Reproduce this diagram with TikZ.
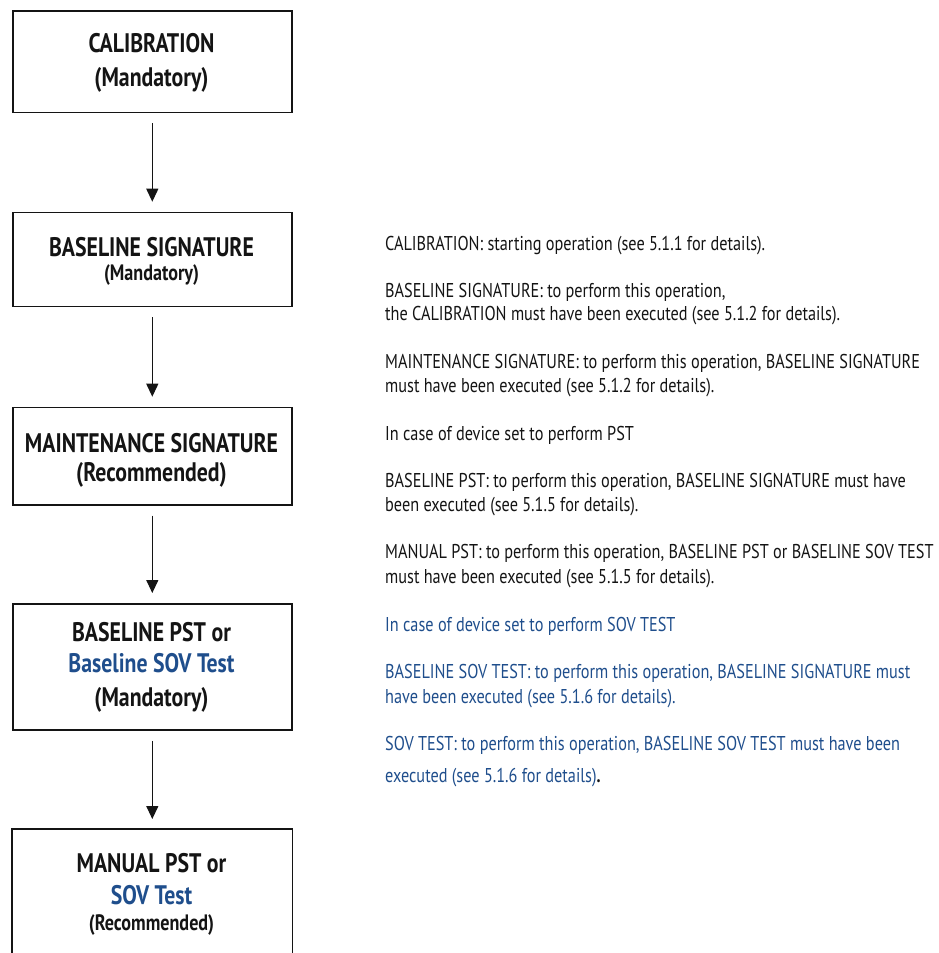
\documentclass[tikz,border=0pt]{standalone}
\usepackage{fontspec}
\setmainfont{PT Sans}[FakeStretch=0.813]
\usetikzlibrary{arrows.meta}
\definecolor{sovblue}{RGB}{31,78,140}
\definecolor{ink}{RGB}{20,20,20}
\tikzset{
  box/.style={draw=ink, line width=1.6pt, minimum width=279pt, inner sep=0pt, anchor=north west},
  bigt/.style={font=\fontsize{26.8}{30}\selectfont\bfseries, anchor=base, inner sep=0pt, text=ink},
  smallt/.style={font=\fontsize{22.3}{26}\selectfont\bfseries, anchor=base, inner sep=0pt, text=ink},
  desc/.style={font=\fontsize{20}{24}\selectfont, anchor=base west, inner sep=0pt, text=ink},
  bdesc/.style={desc, text=sovblue},
  flow/.style={-{Triangle[width=12pt,length=13pt]}, line width=1.2pt, draw=ink, shorten <=10pt, shorten >=10pt},
}
\begin{document}
\begin{tikzpicture}[x=1pt,y=-1pt]
\useasboundingbox (0,0) rectangle (938,953);
% boxes
\node[box, minimum height=101.7pt] (b1) at (12,10) {};
\node[box, minimum height=94pt] (b2) at (12,211.7) {};
\node[box, minimum height=97.3pt] (b3) at (12,406.7) {};
\node[box, minimum height=126.3pt] (b4) at (12,603) {};
\node[box, draw=none, minimum height=135pt] (b5) at (12,829) {};
\draw[line width=1.6pt, draw=ink] (b5.south west) -- (b5.north west) -- (b5.north east) -- (b5.south east);
% box texts
\node[bigt] (t1a) at (151.5,52.5) {CALIBRATION};
\node[bigt] (t1b) at (151.5,86.5) {(Mandatory)};
\node[bigt] (t2a) at (151.5,256.5) {BASELINE SIGNATURE};
\node[smallt] (t2b) at (151.5,280.5) {(Mandatory)};
\node[bigt] (t3a) at (151.5,452.5) {MAINTENANCE SIGNATURE};
\node[bigt] (t3b) at (151.5,481.5) {(Recommended)};
\node[bigt] (t4a) at (151.5,641.5) {BASELINE PST or};
\node[bigt, text=sovblue] (t4b) at (151.5,672.5) {Baseline SOV Test};
\node[bigt] (t4c) at (151.5,706) {(Mandatory)};
\node[bigt] (t5a) at (151.5,872.5) {MANUAL PST or};
\node[bigt, text=sovblue] (t5b) at (151.5,904.5) {SOV Test};
\node[smallt] (t5c) at (151.5,930.5) {(Recommended)};
% arrows
\draw[flow] (b1) -- (b2);
\draw[flow] (b2) -- (b3);
\draw[flow] (b3) -- (b4);
\draw[flow] (b4) -- (b5);
% descriptions
\node[desc] (d1) at (385,250) {CALIBRATION: starting operation (see 5.1.1 for details).};
\node[desc] (d2a) at (385,297) {BASELINE SIGNATURE: to perform this operation,};
\node[desc] (d2b) at (385,320) {the CALIBRATION must have been executed (see 5.1.2 for details).};
\node[desc] (d3a) at (385,368.5) {MAINTENANCE SIGNATURE: to perform this operation, BASELINE SIGNATURE};
\node[desc] (d3b) at (385,392) {must have been executed (see 5.1.2 for details).};
\node[desc] (d4) at (385,440) {In case of device set to perform PST};
\node[desc] (d5a) at (385,487) {BASELINE PST: to perform this operation, BASELINE SIGNATURE must have};
\node[desc] (d5b) at (385,511) {been executed (see 5.1.5 for details).};
\node[desc] (d6a) at (385,558.5) {MANUAL PST: to perform this operation, BASELINE PST or BASELINE SOV TEST};
\node[desc] (d6b) at (385,583) {must have been executed (see 5.1.5 for details).};
\node[bdesc] (d7) at (385,631) {In case of device set to perform SOV TEST};
\node[bdesc] (d8a) at (385,678.5) {BASELINE SOV TEST: to perform this operation, BASELINE SIGNATURE must};
\node[bdesc] (d8b) at (385,703) {have been executed (see 5.1.6 for details).};
\node[bdesc] (d9a) at (385,750) {SOV TEST: to perform this operation, BASELINE SOV TEST must have been};
\node[bdesc] (d9b) at (385,782) {executed (see 5.1.6 for details)\textcolor{ink}{\textbf{.}}};
\end{tikzpicture}
\end{document}
